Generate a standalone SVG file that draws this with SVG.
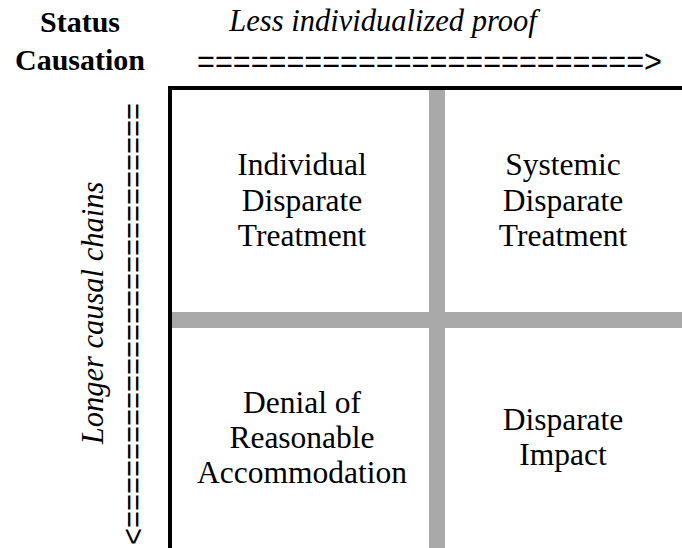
<svg xmlns="http://www.w3.org/2000/svg" width="682" height="548" viewBox="0 0 682 548">
<defs>
<style type="text/css">
.cell{font-size:31.5px;text-anchor:middle;fill:#000}
.hdr{font-size:30px;font-weight:bold;text-anchor:middle;fill:#000}
.ital{font-size:30.5px;font-style:italic;text-anchor:middle;fill:#000}
.arr{font-size:32px;fill:#000}
.grey{fill:#a9a9a9}
.blk{fill:#000}
</style>
</defs>
<rect width="682" height="548" fill="#fff"/>
<g id="header">
<text class="hdr" x="80" y="32" font-family="Tinos, Times New Roman, Liberation Serif, serif">Status</text>
<text class="hdr" x="80" y="70" font-family="Tinos, Times New Roman, Liberation Serif, serif">Causation</text>
</g>
<g id="axis-x">
<text class="ital" x="383" y="31" font-family="Tinos, Times New Roman, Liberation Serif, serif">Less individualized proof</text>
<text class="arr" x="197" y="71.5" font-family="Arial, Liberation Sans, sans-serif" textLength="465" lengthAdjust="spacingAndGlyphs">=========================&gt;</text>
</g>
<g id="axis-y">
<text class="ital" font-family="Tinos, Times New Roman, Liberation Serif, serif" transform="translate(103,313) rotate(-90)">Longer causal chains</text>
<text class="arr" font-family="Arial, Liberation Sans, sans-serif" transform="translate(122.5,103) rotate(90)" textLength="442" lengthAdjust="spacingAndGlyphs">=========================&gt;</text>
</g>
<g id="grid">
<rect class="grey" x="429" y="90" width="16" height="458"/>
<rect class="grey" x="172" y="312" width="510" height="16"/>
<rect class="blk" x="168" y="86" width="514" height="4"/>
<rect class="blk" x="168" y="86" width="4" height="462"/>
</g>
<g id="individual-disparate-treatment">
<text class="cell" x="302" y="175" font-family="Tinos, Times New Roman, Liberation Serif, serif">Individual</text>
<text class="cell" x="302" y="211" font-family="Tinos, Times New Roman, Liberation Serif, serif">Disparate</text>
<text class="cell" x="302" y="246" font-family="Tinos, Times New Roman, Liberation Serif, serif">Treatment</text>
</g>
<g id="systemic-disparate-treatment">
<text class="cell" x="563" y="175" font-family="Tinos, Times New Roman, Liberation Serif, serif">Systemic</text>
<text class="cell" x="563" y="211" font-family="Tinos, Times New Roman, Liberation Serif, serif">Disparate</text>
<text class="cell" x="563" y="246" font-family="Tinos, Times New Roman, Liberation Serif, serif">Treatment</text>
</g>
<g id="denial-of-reasonable-accommodation">
<text class="cell" x="302" y="413" font-family="Tinos, Times New Roman, Liberation Serif, serif">Denial of</text>
<text class="cell" x="302" y="448" font-family="Tinos, Times New Roman, Liberation Serif, serif">Reasonable</text>
<text class="cell" x="302" y="483" font-family="Tinos, Times New Roman, Liberation Serif, serif">Accommodation</text>
</g>
<g id="disparate-impact">
<text class="cell" x="563" y="430" font-family="Tinos, Times New Roman, Liberation Serif, serif">Disparate</text>
<text class="cell" x="563" y="465" font-family="Tinos, Times New Roman, Liberation Serif, serif">Impact</text>
</g>
</svg>
